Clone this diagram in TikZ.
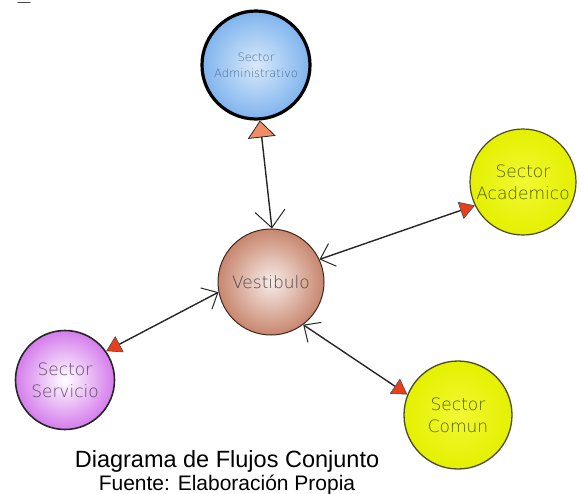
\documentclass[tikz,border=0pt]{standalone}
\usepackage{fontspec}
\setmainfont{Liberation Sans}
\newfontfamily\handfont{DejaVu Sans}[UprightFont={* ExtraLight}]
\usetikzlibrary{arrows.meta}
\definecolor{admblue}{HTML}{7FB4EE}
\definecolor{admtxt}{HTML}{4A6894}
\definecolor{vestb}{HTML}{C8866E}
\definecolor{vesttxt}{HTML}{4E4644}
\definecolor{acyel}{HTML}{E4F000}
\definecolor{yeltxt}{HTML}{4E5C00}
\definecolor{servv}{HTML}{D47CEC}
\definecolor{servtxt}{HTML}{5E4866}
\definecolor{tri}{HTML}{E6401E}
\definecolor{trio}{HTML}{F08C66}
\tikzset{
  sector/.style={circle, minimum size=#1, inner sep=0pt, align=center, font=\handfont\fontsize{17}{22}\selectfont},
  link/.style={line width=1.4pt, draw=black!85},
  barbtip/.tip={Straight Barb[length=13pt,width=24pt,line width=1pt]},
  bigbarbtip/.tip={Straight Barb[length=17pt,width=30pt,line width=1pt]},
  redtip/.tip={Triangle[length=15pt,width=18pt,fill=tri,color=black!70,line width=0.6pt]},
  orangetip/.tip={Triangle[length=17pt,width=28pt,fill=trio,color=black!85,line width=0.8pt]},
}
\begin{document}
\begin{tikzpicture}[x=1pt,y=-1pt]
\useasboundingbox (0,0) rectangle (586,493);
\draw[black!70, line width=1.4pt, line cap=round] (18,2.5) -- (30,2.5);
% circles
\node[sector=108pt, draw=black, line width=3.2pt, inner color=admblue!30, outer color=admblue, font=\handfont\fontsize{11.5}{16}\selectfont, text=admtxt] (adm) at (256,65) {Sector\\Administrativo};
\node[sector=106pt, draw=black!70!vestb, line width=1pt, inner color=vestb!15, outer color=vestb, text=vesttxt] (ves) at (271,282) {Vestibulo};
\node[sector=106pt, draw=black!60!olive, line width=1.2pt, inner color=acyel!60!yellow!80!white, outer color=acyel, text=yeltxt] (aca) at (523,182) {Sector\\Academico};
\node[sector=99pt, draw=black!85, line width=1.6pt, inner color=white, outer color=servv, text=servtxt] (ser) at (65,380) {Sector\\Servicio};
\node[sector=108pt, draw=black!60!olive, line width=1.3pt, inner color=acyel!60!yellow!80!white, outer color=acyel, text=yeltxt] (com) at (458,415) {Sector\\Comun};
% connectors
\draw[link, bigbarbtip-orangetip] (ves.89) -- (adm.-86);
\draw[link, barbtip-redtip] (ves.25) -- (aca.206);
\draw[link, barbtip-redtip] (ves.191) -- (ser.35);
\draw[link, barbtip-redtip] (ves.-53) -- (com.158);
% caption
\node[font=\fontsize{23.5}{26}\selectfont, anchor=base] (cap1) at (227,467) {Diagrama de Flujos Conjunto};
\node[font=\fontsize{21}{24}\selectfont, anchor=base] (cap2) at (227,490) {Fuente: Elaboración Propia};
\end{tikzpicture}
\end{document}
